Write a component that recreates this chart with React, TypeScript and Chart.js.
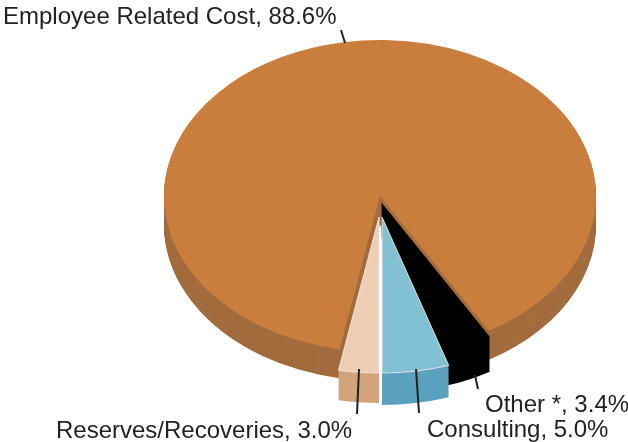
import React, { useEffect, useRef } from "react";
import { Chart, registerables } from "chart.js";

Chart.register(...registerables);

const categories = ["Employee Related Cost", "Other *", "Consulting", "Reserves/Recoveries"];
const shares = [88.6, 3.4, 5.0, 3.0];
const topColors = ["#c97e3e", "#000000", "#82c1d4", "#eecdb5"];
const sideColors = ["#a36c3e", "#000000", "#5aa2be", "#d1a47c"];
const borderColors = ["#c97e3e", "#000000", "#f4ece6", "#f4ece6"];
const borderWidths = [0, 0, 1, 1];
const drawOrder = [0, 1, 3, 2];
const explodeX = [0, 1, 2, -1];
const explodeY = [0, 6, 21, 21];
const depths = [29, 35, 32, 30];
const labelX = [3, 485, 427, 56];
const labelY = [24, 412, 437, 438];
const leaderFrom = [[341, 30], [475, 375], [416, 369], [359, 369]];
const leaderTo = [[345, 43], [478, 389], [419, 413], [357, 414]];

const CENTER_X = 380;
const CENTER_Y = 196;
const RADIUS_X = 216;
const RADIUS_Y = 156;

const piePlugin = {
  id: "tiltedPie",
  beforeDatasetDraw(chart: any) {
    const ctx = chart.ctx;
    const meta = chart.getDatasetMeta(0);
    const first = meta.data[0];
    const sx = RADIUS_X / first.outerRadius;
    const sy = RADIUS_Y / first.outerRadius;
    const paint = (arc: any, dx: number, dy: number, fill?: string) => {
      const original = arc.options;
      if (fill) {
        arc.options = Object.create(original, {
          backgroundColor: { value: fill },
          borderWidth: { value: 0 },
        });
      }
      ctx.save();
      ctx.translate(CENTER_X + dx, CENTER_Y + dy);
      ctx.scale(sx, sy);
      ctx.translate(-first.x, -first.y);
      arc.draw(ctx);
      ctx.restore();
      arc.options = original;
    };
    drawOrder.forEach((index) => {
      const arc = meta.data[index];
      for (let step = depths[index]; step > 0; step--) {
        paint(arc, explodeX[index], explodeY[index] + step, sideColors[index]);
      }
      paint(arc, explodeX[index], explodeY[index]);
    });
    return false;
  },
  afterDraw(chart: any) {
    const ctx = chart.ctx;
    ctx.save();
    ctx.strokeStyle = "#222222";
    ctx.lineWidth = 2;
    leaderFrom.forEach((from, i) => {
      ctx.beginPath();
      ctx.moveTo(from[0], from[1]);
      ctx.lineTo(leaderTo[i][0], leaderTo[i][1]);
      ctx.stroke();
    });
    ctx.fillStyle = "#222222";
    ctx.font = '24px "Liberation Sans"';
    ctx.textBaseline = "alphabetic";
    categories.forEach((name, i) => {
      ctx.fillText(`${name}, ${shares[i].toFixed(1)}%`, labelX[i], labelY[i]);
    });
    ctx.restore();
  },
};

export default function App() {
  const ref = useRef<HTMLCanvasElement>(null);
  useEffect(() => {
    const chart = new Chart(ref.current as HTMLCanvasElement, {
      type: "pie",
      data: {
        labels: categories,
        datasets: [
          {
            data: shares,
            backgroundColor: topColors,
            borderColor: borderColors,
            borderWidth: borderWidths,
          },
        ],
      },
      options: {
        responsive: false,
        animation: false,
        devicePixelRatio: 1,
        rotation: 190.8,
        plugins: { legend: { display: false }, tooltip: { enabled: false } },
      },
      plugins: [piePlugin],
    } as any);
    return () => chart.destroy();
  }, []);
  return (
    <canvas
      ref={ref}
      width={628}
      height={442}
      style={{ position: "fixed", left: 0, top: 0, width: 628, height: 442 }}
    />
  );
}
